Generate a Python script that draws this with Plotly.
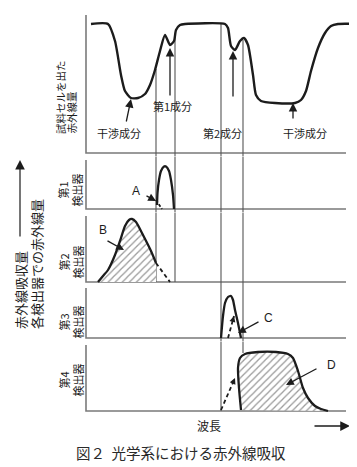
import plotly.graph_objects as go

W, H = 357, 467

# ---------------- data (wavelength in arbitrary units, intensity in arbitrary units) ----------------
# top panel: infrared leaving the sample cell
top_wl = [5, 22, 29, 35, 39, 45, 52, 59, 64, 69, 74, 79, 84, 88, 90, 94, 99, 139, 142, 145,
          149, 154, 158, 162, 167, 170, 175, 189, 209, 215, 220, 225, 232, 239, 245, 252, 274]
top_val = [129, 129, 112, 78, 62, 55, 55, 59, 68, 83, 102, 118, 108, 112, 123, 128, 129, 129, 125, 107,
           103, 112, 115, 108, 78, 58, 52, 50, 50, 53, 62, 82, 105, 120, 127, 129, 129]

# detector 1 (component 1 band)
det1_wl = [71, 71.5, 73, 75, 78, 80, 83, 85, 87, 88]
det1_val = [4, 16, 29, 38, 42.5, 42.5, 38, 29, 14, 0]
det1_dash_wl = [70, 76]
det1_dash_val = [9, 0]

# detector 2 (interference, hatched B)
det2_wl = [12, 17, 22, 29, 34, 39, 43, 46, 50, 57, 65, 70]
det2_val = [0, 6, 12, 27, 41, 56, 62, 63, 60, 47, 31, 19]
det2_dash_wl = [70, 77, 84]
det2_dash_val = [19, 9, 0]

# detector 3 (component 2 band)
det3_wl = [135, 137, 139, 142, 145, 147, 149, 152, 154, 155]
det3_val = [0, 22, 35, 41, 42, 38, 28, 15, 5, 0]
det3_dash_wl = [142, 148]
det3_dash_val = [0, 22]

# detector 4 (interference, hatched D)
det4_wl = [155, 153, 152, 154, 159, 172, 190, 202, 207, 212, 217, 222, 229, 235, 242]
det4_val = [1, 23, 43, 53, 57, 59, 59, 57, 53, 40, 23, 13, 5, 2, 0]
det4_dash_wl = [135, 149]
det4_dash_val = [1, 33]

# filter band edges (vertical guide lines)
guide_wl = [70, 89, 135, 157]
guide_start_val = [84, 116, 129, 113]
guide_end_panel = [2, 2, 4, 4]
guide_end_val = [0, 0, 0, 58]

axis_end_wl = 260

# ---------------- layout geometry ----------------
# (domain top px, domain bottom px, baseline px, axis-top value)
panels = [
    (0, 148.5, 145, 138),
    (148.5, 204.5, 201, 49),
    (204.5, 277, 274, 66),
    (277, 333.5, 330, 50),
    (333.5, 467, 403, 66),
]
yrefs = ['y', 'y2', 'y3', 'y4', 'y5']

INK = '#1c1c1c'
AXC = '#7a7a7a'
GUIDE = '#555555'
FONT = 'Noto Sans CJK JP'

fig = go.Figure()

def add_line(xs, ys, yref, color=INK, width=2.3, dash=None, shape='spline', **kw):
    fig.add_trace(go.Scatter(x=xs, y=ys, xaxis='x', yaxis=yref, mode='lines',
                             line=dict(color=color, width=width, dash=dash, shape=shape,
                                       smoothing=0.6 if shape == 'spline' else None),
                             hoverinfo='skip', showlegend=False, **kw))

# axes (L shapes)
for i, (t, b, base, atop) in enumerate(panels):
    add_line([0, 0, axis_end_wl], [atop, 0, 0], yrefs[i], color=AXC, width=1.6, shape='linear')

# guide lines through panels
for gx, sv, ep, ev in zip(guide_wl, guide_start_val, guide_end_panel, guide_end_val):
    for p in range(0, ep + 1):
        t, b, base, atop = panels[p]
        hi = base - t
        lo = base - b
        y0 = sv if p == 0 else hi
        y1 = ev if p == ep else lo
        add_line([gx, gx], [y0, y1], yrefs[p], color=GUIDE, width=1.1, shape='linear')

hatch = dict(shape='/', size=5, solidity=0.25, fgcolor='#333333', bgcolor='white')

# top curve
add_line(top_wl, top_val, 'y', width=2.4)
# detector 1
add_line(det1_wl, det1_val, 'y2')
add_line(det1_dash_wl, det1_dash_val, 'y2', width=1.8, dash='3px,2px', shape='linear')
# detector 2
add_line(det2_wl, det2_val, 'y3', fill='tozeroy', fillcolor='white', fillpattern=hatch)
add_line(det2_dash_wl, det2_dash_val, 'y3', width=1.8, dash='4px,3px', shape='linear')
# detector 3
add_line(det3_wl, det3_val, 'y4')
add_line(det3_dash_wl, det3_dash_val, 'y4', width=1.8, dash='4px,3px', shape='linear')
# detector 4
add_line(det4_wl, det4_val, 'y5', fill='toself', fillcolor='white', fillpattern=hatch)
add_line(det4_dash_wl, det4_dash_val, 'y5', width=1.8, dash='4px,3px', shape='linear')

ann = []

def ppx(px):
    return px / W

def ppy(py):
    return 1 - py / H

def text(px, py, s, size=11, angle=0, xanchor='center', yanchor='middle', align='center', color=INK):
    ann.append(dict(x=ppx(px), y=ppy(py), xref='paper', yref='paper', text=s, showarrow=False,
                    textangle=angle, xanchor=xanchor, yanchor=yanchor, align=align,
                    font=dict(family=FONT, size=size, color=color)))

def arrow(x, y, ax, ay, yref, width=1.3, size=1.3):
    ann.append(dict(x=x, y=y, ax=ax, ay=ay, xref='x', yref=yref, axref='x', ayref=yref,
                    text='', showarrow=True, arrowhead=2, arrowsize=size, arrowwidth=width,
                    arrowcolor=INK))

# top panel labels
text(52, 128, '試料セルを出た', size=10.5, angle=-90, yanchor='bottom')
text(63, 128, '赤外線量', size=10.5, angle=-90, yanchor='bottom')
text(111, 125, '干渉成分')
text(164, 98, '第1成分')
text(214, 125, '第2成分')
text(297, 125, '干渉成分')
arrow(45, 54, 40, 30, 'y')
arrow(84, 105, 84, 56, 'y')
arrow(147, 102, 147, 55, 'y')
arrow(207, 50, 207, 33, 'y')

# left big label
text(12, 323, '赤外線吸収量', size=13, angle=-90, yanchor='bottom')
text(28, 323, '各検出器での赤外線量', size=13, angle=-90, yanchor='bottom')
ann.append(dict(x=ppx(12), y=ppy(152), xref='paper', yref='paper', ax=0, ay=78, text='',
                showarrow=True, arrowhead=2, arrowsize=1.6, arrowwidth=1.2, arrowcolor=INK))

# detector labels
det_labels = ['第1<br>検出器', '第2<br>検出器', '第3<br>検出器', '第4<br>検出器']
det_label_bottom = [201, 273, 333, 391]
for s, yb in zip(det_labels, det_label_bottom):
    text(62, yb, s, size=11, angle=-90, yanchor='bottom')

# A, B, C, D pointers
for lab, (lx, ly), (tx, ty), (sx, sy), yref in [
    ('A', (50, 18), (70, 8), (59, 14), 'y2'),
    ('B', (17, 52), (38, 32), (20, 42), 'y3'),
    ('C', (182, 20), (152, 5), (174, 17), 'y4'),
    ('D', (245, 46), (200, 26), (232, 43), 'y5'),
]:
    ann.append(dict(x=lx, y=ly, xref='x', yref=yref, text=lab, showarrow=False,
                    font=dict(family='Liberation Sans', size=12, color=INK)))
    arrow(tx, ty, sx, sy, yref, width=1.3, size=1.2)

# small arrowheads on dashed shift lines
for (tx, ty), (sx, sy), yref in [((148, 22), (146.5, 16.5), 'y4'), ((149, 33), (146, 26), 'y5')]:
    arrow(tx, ty, sx, sy, yref, width=1.2, size=1.0)

# x axis label and arrow
text(201, 417, '波長', size=12)
ann.append(dict(x=ppx(342), y=ppy(418), xref='paper', yref='paper', ax=-37, ay=0, text='',
                showarrow=True, arrowhead=2, arrowsize=1.5, arrowwidth=1.3, arrowcolor=INK))

# caption
text(173, 444, '図２  光学系における赤外線吸収', size=14.5, color='#2a2a2a')

layout = dict(
    width=W, height=H, margin=dict(l=0, r=0, t=0, b=0),
    paper_bgcolor='white', plot_bgcolor='rgba(0,0,0,0)',
    xaxis=dict(domain=[0, 1], range=[-78, 279], visible=False, fixedrange=True),
    annotations=ann, showlegend=False,
)
for i, (t, b, base, atop) in enumerate(panels):
    key = 'yaxis' if i == 0 else f'yaxis{i + 1}'
    layout[key] = dict(domain=[1 - b / H, 1 - t / H], range=[base - b, base - t],
                       visible=False, anchor='x', fixedrange=True)

fig.update_layout(**layout)
fig.write_html('out.html')
